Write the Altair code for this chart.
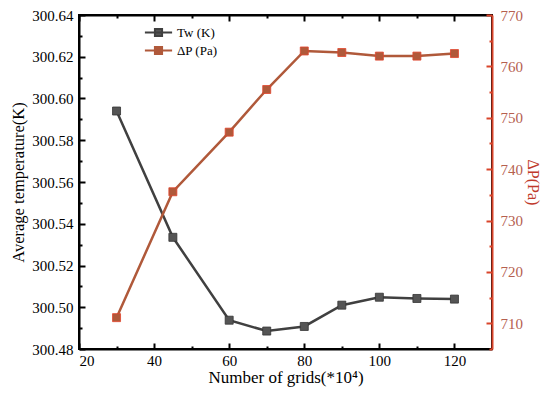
import altair as alt
import pandas as pd

grids = [30, 45, 60, 70, 80, 90, 100, 110, 120]
tw = [300.594, 300.5335, 300.4938, 300.4886, 300.4908, 300.501, 300.5048, 300.5042, 300.5039]
dp = [711.1, 735.6, 747.2, 755.5, 763.0, 762.7, 762.0, 762.0, 762.5]

series_names = ["Tw (K)", "ΔP (Pa)"]
x_ticks = [20, 30, 40, 50, 60, 70, 80, 90, 100, 110, 120]
left_ticks = [300.48, 300.49, 300.50, 300.51, 300.52, 300.53, 300.54, 300.55, 300.56,
              300.57, 300.58, 300.59, 300.60, 300.61, 300.62, 300.63, 300.64]
right_ticks = [705, 710, 715, 720, 725, 730, 735, 740, 745, 750, 755, 760, 765, 770]

W, H = 413, 334
FONT = "Liberation Serif"
RED = "#d9442b"
TK = 6


def build(use_cond):
    def tsize(test):
        if use_cond:
            return {"condition": {"test": test, "value": -TK}, "value": -3}
        return {"expr": str(-TK)}

    df_tw = pd.DataFrame({"grids": grids, "val": tw, "series": series_names[0]})
    df_dp = pd.DataFrame({"grids": grids, "val": dp, "series": series_names[1]})

    xscale = alt.Scale(domain=[20, 130], nice=False)
    xtest = "datum.value % 20 == 0"
    xaxis = alt.Axis(values=x_ticks, labelExpr="datum.value % 20 == 0 ? datum.label : ''",
                     title="Number of grids(*10⁴)", grid=False,
                     tickSize=tsize(xtest), tickWidth=2, tickColor="black",
                     domainColor="black", domainWidth=2, labelPadding=4 + TK,
                     titleBaseline="alphabetic", titleY=33,
                     labelFont=FONT, labelFontSize=15, labelColor="black",
                     titleFont=FONT, titleFontSize=17, titleFontWeight="normal", titleColor="black")
    xaxis_top = alt.Axis(values=x_ticks, orient="top", labels=False, title=None, grid=False,
                         tickSize=tsize(xtest), tickWidth=2, tickColor="black",
                         domainColor="black", domainWidth=2)
    yl_scale = alt.Scale(domain=[300.48, 300.64], nice=False, zero=False)
    yr_scale = alt.Scale(domain=[705, 770], nice=False, zero=False)

    legend = alt.Legend(title=None, orient="none", legendX=70, legendY=8,
                        symbolType="M-1.6,0L1.6,0M-0.42,-0.42L0.42,-0.42L0.42,0.42L-0.42,0.42Z",
                        symbolSize=289, symbolStrokeWidth=2, labelFont=FONT,
                        labelFontSize=13, labelColor="black", rowPadding=0, labelOffset=9)
    cscale = alt.Scale(domain=series_names, range=["#404040", "#b0593a"])
    fscale = alt.Scale(domain=series_names, range=["#555555", "#b0593a"])

    ltest = "round(datum.value * 100) % 2 == 0"
    yl_axis = alt.Axis(values=left_ticks, format=".2f",
                       labelExpr="round(datum.value * 100) % 2 == 0 ? datum.label : ''",
                       tickSize=tsize(ltest), tickWidth=2, tickColor="black",
                       grid=False, domainColor="black",
                       domainWidth=2, labelPadding=6 + TK, title="Average temperature(K)", titlePadding=5,
                       labelFont=FONT, labelFontSize=15, labelColor="black",
                       titleFont=FONT, titleFontSize=16.5, titleFontWeight="normal", titleColor="black")
    rtest = "datum.value % 10 == 0"
    yr_axis = alt.Axis(values=right_ticks, orient="right",
                       labelExpr="datum.value % 10 == 0 ? datum.label : ''",
                       tickSize=tsize(rtest), tickWidth=2, tickColor=RED,
                       grid=False, domainColor=RED,
                       domainWidth=2, labelPadding=8 + TK, title="ΔP(Pa)", titlePadding=2,
                       labelFont=FONT, labelFontSize=15, labelColor="#b5604f",
                       titleFont=FONT, titleFontSize=16, titleFontWeight="normal", titleColor="#c0392b")

    x_enc = alt.X("grids:Q", scale=xscale, axis=xaxis)
    x_enc_top = alt.X("grids:Q", scale=xscale, axis=xaxis_top)

    tw_line = alt.Chart(df_tw).mark_line(strokeWidth=2.5).encode(
        x=x_enc, y=alt.Y("val:Q", scale=yl_scale, axis=yl_axis),
        stroke=alt.Stroke("series:N", scale=cscale, legend=legend))
    tw_pts = alt.Chart(df_tw).mark_square(size=64, filled=True, stroke="#333333", strokeWidth=0.8,
                                          opacity=1).encode(
        x=x_enc, y=alt.Y("val:Q", scale=yl_scale, axis=yl_axis),
        fill=alt.Fill("series:N", scale=fscale, legend=legend))
    left = alt.layer(tw_line, tw_pts)

    dp_line = alt.Chart(df_dp).mark_line(strokeWidth=2.5).encode(
        x=x_enc_top, y=alt.Y("val:Q", scale=yr_scale, axis=yr_axis),
        stroke=alt.Stroke("series:N", scale=cscale, legend=legend))
    dp_pts = alt.Chart(df_dp).mark_square(size=64, filled=True, stroke="#e2452d", strokeWidth=0.8,
                                          opacity=1).encode(
        x=x_enc_top, y=alt.Y("val:Q", scale=yr_scale, axis=yr_axis),
        fill=alt.Fill("series:N", scale=fscale, legend=legend))
    right = alt.layer(dp_line, dp_pts)

    ch = alt.layer(left, right).resolve_scale(y="independent").resolve_axis(x="independent").properties(
        width=W, height=H,
        autosize=alt.AutoSizeParams(type="none"),
        padding={"left": 71, "top": 7, "right": 50, "bottom": 39},
    ).configure_view(stroke="black", strokeWidth=2)
    ch.to_dict()
    return ch


try:
    chart = build(True)
except Exception:
    chart = build(False)

chart.save("out.html", embed_options={"renderer": "svg", "actions": False})
